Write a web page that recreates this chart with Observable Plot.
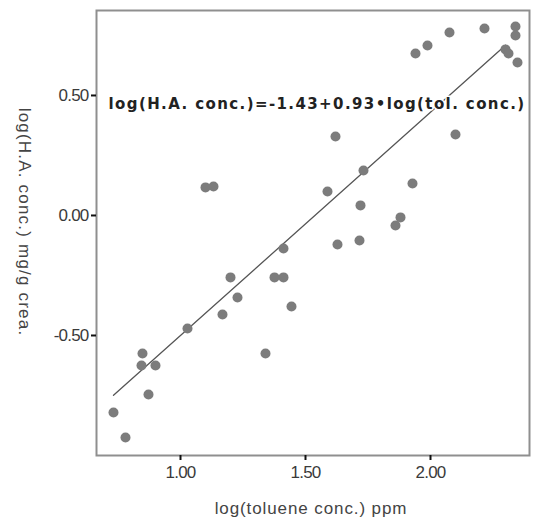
<!DOCTYPE html>
<html>
<head>
<meta charset="utf-8">
<script src="https://cdn.jsdelivr.net/npm/d3@7"></script>
<script src="https://cdn.jsdelivr.net/npm/@observablehq/plot@0.6"></script>
<style>
  html, body { margin: 0; padding: 0; background: #fff; }
  #chart svg { display: block; }
</style>
</head>
<body>
<div id="chart"></div>
<script>
const logToluene = [0.732, 0.78, 0.848, 0.844, 0.90, 0.872, 1.028, 1.168, 1.20, 1.228,
  1.34, 1.376, 1.412, 1.412, 1.444, 1.10, 1.132, 1.588, 1.62, 1.628,
  1.716, 1.732, 1.72, 1.86, 1.88, 1.928, 1.94, 1.988, 2.076, 2.10,
  2.216, 2.34, 2.34, 2.30, 2.312, 2.348];
const logHA = [-0.821, -0.925, -0.575, -0.625, -0.625, -0.746, -0.471, -0.4125, -0.258, -0.342,
  -0.575, -0.258, -0.258, -0.1375, -0.379, 0.117, 0.121, 0.10, 0.329, -0.121,
  -0.104, 0.1875, 0.042, -0.042, -0.008, 0.133, 0.675, 0.708, 0.7625, 0.3375,
  0.779, 0.7875, 0.75, 0.692, 0.675, 0.6375];
const intercept = -1.43;
const slope = 0.93;
const fitRange = [0.732, 2.30];
const xTicks = [1.0, 1.5, 2.0];
const yTicks = [-0.5, 0.0, 0.5];
const equationText = "log(H.A. conc.)=-1.43+0.93•log(tol. conc.)";
const xLabel = "log(toluene conc.) ppm";
const yLabel = "log(H.A. conc.) mg/g crea.";

const points = logToluene.map((x, i) => ({x, y: logHA[i]}));
const fit = fitRange.map(x => ({x, y: intercept + slope * x}));

const xDomain = [0.664, 2.396];
const yDomain = [-1.0, 0.854];
const fmt = d => d.toFixed(2);
const font = "Liberation Sans, Arial, sans-serif";

const chart = Plot.plot({
  width: 533,
  height: 519,
  marginLeft: 96,
  marginRight: 4,
  marginTop: 10,
  marginBottom: 64,
  style: {fontFamily: font, background: "#fff"},
  x: {domain: xDomain, label: null},
  y: {domain: yDomain, label: null},
  marks: [
    Plot.frame({stroke: "#8f8f8f", strokeWidth: 2}),
    Plot.axisX({ticks: xTicks, tickFormat: fmt, tickSize: 5, tickPadding: 5,
      fontSize: 17, color: "#3a3a3a", stroke: "#111", strokeWidth: 2, label: null}),
    Plot.axisY({ticks: yTicks, tickFormat: fmt, tickSize: 5, tickPadding: 3,
      fontSize: 17, color: "#3a3a3a", stroke: "#111", strokeWidth: 2, label: null}),
    Plot.line(fit, {x: "x", y: "y", stroke: "#555", strokeWidth: 1.3}),
    Plot.dot(points, {x: "x", y: "y", r: 5, fill: "#7c7c7c", stroke: "none"}),
    Plot.text([equationText], {x: 0.712, y: 0.4625, text: d => d, textAnchor: "start",
      fontSize: 15, fontWeight: "bold", fontFamily: "DejaVu Sans, sans-serif", fill: "#222",
      stroke: "white", strokeWidth: 3, paintOrder: "stroke"})
  ]
});

const svg = d3.select(chart);
svg.selectAll("[aria-label='x-axis tick label'] text, [aria-label='y-axis tick label'] text")
  .attr("letter-spacing", "-0.8px");
svg.select("[aria-label='text'] text").attr("letter-spacing", "1.4px");
svg.append("text")
  .attr("x", 311).attr("y", 514)
  .attr("text-anchor", "middle")
  .attr("font-size", 17).attr("fill", "#444")
  .attr("letter-spacing", "0.9px")
  .attr("font-family", font)
  .text(xLabel);
svg.append("text")
  .attr("transform", "translate(23,222) rotate(90)")
  .attr("text-anchor", "middle")
  .attr("dominant-baseline", "middle")
  .attr("font-size", 17).attr("fill", "#444")
  .attr("letter-spacing", "1.2px")
  .attr("font-family", font)
  .text(yLabel);

document.getElementById("chart").appendChild(chart);
</script>
</body>
</html>
